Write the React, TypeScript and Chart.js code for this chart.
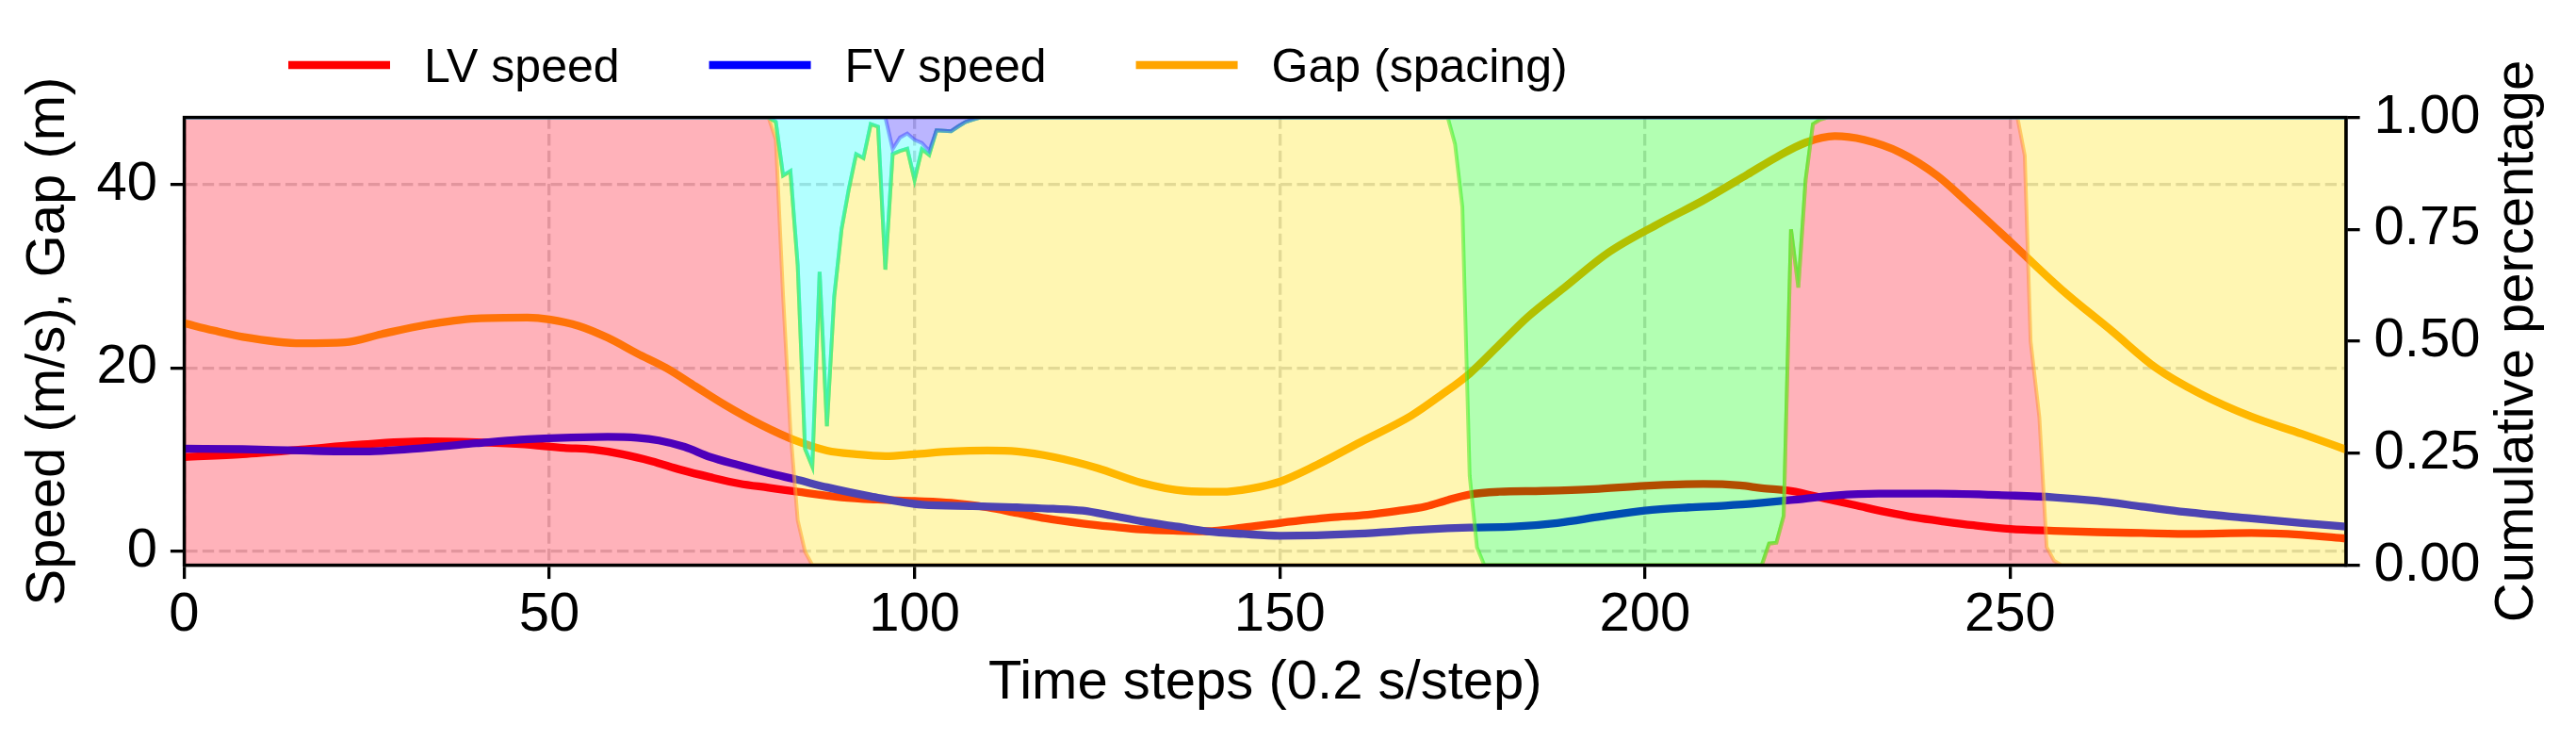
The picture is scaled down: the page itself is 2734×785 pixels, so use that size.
import React, { useEffect, useRef } from "react";
import { Chart, registerables } from "chart.js";

Chart.register(...registerables);

const FONT = '"Liberation Sans", Arial, Helvetica, sans-serif';

// ---- Axis ticks / titles ----
const xTicks = [0, 50, 100, 150, 200, 250];
const leftTicks = [0, 20, 40];
const rightTicks = [0, 0.25, 0.5, 0.75, 1];
const xTitle = "Time steps (0.2 s/step)";
const leftTitle = "Speed (m/s), Gap (m)";
const rightTitle = "Cumulative percentage";

// ---- Series ----
const seriesNames = ["LV speed", "FV speed", "Gap (spacing)"];
const seriesColors = ["#ff0000", "#0000ff", "#ffa500"];

const lvSteps = [0, 8, 16, 24, 33, 40, 46, 52, 56, 60, 64, 68, 72, 76, 80, 84, 90, 95, 100, 105, 110, 114, 118, 123, 127, 131, 136, 140, 145, 150, 157, 162, 166, 170, 173, 176, 180, 186, 193, 200, 208, 213, 216, 220, 225, 229, 233, 237, 241, 245, 250, 256, 262, 268, 275, 283, 290, 296];
const lvSpeed = [10.3, 10.6, 11.1, 11.65, 12.0, 11.9, 11.7, 11.3, 11.1, 10.6, 9.85, 8.9, 8.1, 7.4, 6.95, 6.5, 5.9, 5.65, 5.5, 5.3, 4.8, 4.2, 3.6, 3.05, 2.7, 2.4, 2.25, 2.2, 2.6, 3.1, 3.7, 4.0, 4.4, 4.9, 5.6, 6.2, 6.5, 6.6, 6.8, 7.15, 7.35, 7.2, 6.9, 6.6, 5.7, 5.0, 4.3, 3.7, 3.25, 2.85, 2.45, 2.25, 2.1, 2.0, 1.9, 2.0, 1.8, 1.4];

const fvSteps = [0, 8, 16, 24, 33, 40, 46, 52, 58, 62, 65, 68.5, 72, 76, 80, 84, 88, 94, 101, 108, 114, 119, 123, 127, 131, 136, 140, 145, 150, 155, 160, 166, 170, 176, 182, 188, 194, 200, 206, 211, 216, 220, 226, 232, 240, 250, 256, 262, 268, 274, 283, 290, 296];
const fvSpeed = [11.2, 11.15, 11.0, 10.9, 11.3, 11.8, 12.2, 12.4, 12.5, 12.4, 12.1, 11.4, 10.3, 9.4, 8.55, 7.8, 7.0, 6.0, 5.1, 4.95, 4.8, 4.65, 4.45, 3.9, 3.3, 2.7, 2.2, 1.9, 1.7, 1.75, 1.9, 2.2, 2.4, 2.6, 2.7, 3.1, 3.8, 4.45, 4.8, 5.0, 5.3, 5.6, 6.1, 6.3, 6.3, 6.1, 5.9, 5.5, 4.9, 4.3, 3.6, 3.1, 2.7];

const gapSteps = [0, 4, 8, 16, 22, 27, 33, 40, 47, 50, 54, 58, 62, 66, 70, 74, 79, 84, 88, 92, 96, 100, 105, 110, 114, 119, 125, 131, 137, 142, 146, 150, 155, 161, 168, 172, 176, 180, 184, 189, 195, 202, 208, 214, 218, 222, 226, 230, 235, 240, 244, 250, 257, 264, 270, 276, 283, 290, 296];
const gapValues = [24.9, 24.1, 23.4, 22.7, 22.8, 23.7, 24.7, 25.4, 25.5, 25.3, 24.6, 23.3, 21.6, 20.0, 18.0, 16.0, 13.8, 12.0, 11.0, 10.6, 10.4, 10.6, 10.9, 11.0, 10.9, 10.3, 9.1, 7.5, 6.6, 6.5, 6.85, 7.6, 9.4, 11.9, 14.8, 17.0, 19.4, 22.5, 25.6, 28.8, 32.6, 35.8, 38.3, 41.1, 43.0, 44.6, 45.3, 44.9, 43.5, 41.0, 38.2, 33.8, 28.6, 24.0, 20.0, 17.2, 14.7, 12.8, 11.1];

// ---- Cumulative percentage (stack boundaries, bottom to top) ----
const areaSteps = [0, 80, 81, 82, 83, 84, 85, 86, 87, 88, 89, 90, 91, 92, 93, 94, 95, 96, 97, 98, 99, 100, 101, 102, 103, 104, 105, 106, 107, 108, 109, 173, 174, 175, 176, 177, 178, 216, 217, 218, 219, 220, 221, 222, 223, 224, 225, 251, 252, 252.8, 254, 255, 256, 257, 296];
const pinkCum = [1, 1, 0.95, 0.6, 0.3, 0.1, 0.03, 0,
  0, 0, 0, 0, 0, 0, 0, 0, 0, 0, 0, 0, 0, 0, 0, 0, 0, 0, 0, 0, 0, 0, 0,
  0, 0, 0, 0, 0, 0,
  0, 0.048, 0.05, 0.11, 0.75, 0.62, 0.86, 0.985, 0.995, 1,
  1, 0.915, 0.5, 0.33, 0.04, 0.01, 0,
  0];
const yellowCum = [1, 1, 0.99, 0.87, 0.88, 0.67, 0.26, 0.22,
  0.655, 0.31, 0.6, 0.75, 0.84, 0.918, 0.909, 0.985, 0.979, 0.66, 0.918, 0.925, 0.93, 0.86, 0.929, 0.916, 0.971, 0.97, 0.969, 0.98, 0.99, 0.995, 1,
  1, 0.94, 0.8, 0.2, 0.04, 0,
  0, 0.048, 0.05, 0.11, 0.75, 0.62, 0.86, 0.985, 0.995, 1,
  1, 1, 1, 1, 1, 1, 1,
  1];
const greenCum = [1, 1, 0.99, 0.87, 0.88, 0.67, 0.26, 0.22,
  0.655, 0.31, 0.6, 0.75, 0.84, 0.918, 0.909, 0.985, 0.979, 0.66, 0.918, 0.925, 0.93, 0.86, 0.929, 0.916, 0.971, 0.97, 0.969, 0.98, 0.99, 0.995, 1,
  1, 1, 1, 1, 1, 1,
  1, 1, 1, 1, 1, 1, 1, 1, 1, 1,
  1, 1, 1, 1, 1, 1, 1,
  1];
const cyanCum = [1, 1, 1, 1, 1, 1, 1, 1,
  1, 1, 1, 1, 1, 1, 1, 1, 1, 1, 0.929, 0.955, 0.964, 0.95, 0.943, 0.925, 0.971, 0.97, 0.969, 0.98, 0.99, 0.995, 1,
  1, 1, 1, 1, 1, 1,
  1, 1, 1, 1, 1, 1, 1, 1, 1, 1,
  1, 1, 1, 1, 1, 1, 1,
  1];
const blueCum = [1, 1, 1, 1, 1, 1, 1, 1,
  1, 1, 1, 1, 1, 1, 1, 1, 1, 1, 1, 1, 1, 1, 1, 1, 1, 1, 1, 1, 1, 1, 1,
  1, 1, 1, 1, 1, 1,
  1, 1, 1, 1, 1, 1, 1, 1, 1, 1,
  1, 1, 1, 1, 1, 1, 1,
  1];

const areaFills = ["rgba(255,0,25,0.3)", "rgba(255,225,0,0.3)", "rgba(0,255,0,0.3)", "rgba(0,255,255,0.3)", "rgba(30,10,255,0.3)"];
const areaEdges = ["rgba(255,150,70,0.6)", "rgba(90,235,50,0.6)", "rgba(60,235,140,0.65)", "rgba(80,110,255,0.55)", "rgba(60,60,255,0.4)"];

const X_MAX = 296;
const Y_MIN = -1.5;
const Y_MAX = 47.35;

const GRID = "#d6d6d6";

function toPts(xs: number[], ys: number[]) {
  return xs.map((x, i) => ({ x, y: ys[i] }));
}

const overlayPlugin = {
  id: "overlay",
  afterDraw(chart: any) {
    const { ctx, chartArea: a } = chart;
    ctx.save();
    // frame (spines)
    ctx.strokeStyle = "#000";
    ctx.lineWidth = 3.3;
    ctx.setLineDash([]);
    ctx.strokeRect(a.left, a.top, a.right - a.left, a.bottom - a.top);

    // right axis title (reads bottom-to-top)
    ctx.save();
    ctx.fillStyle = "#000";
    ctx.font = `58px ${FONT}`;
    ctx.textAlign = "center";
    ctx.textBaseline = "middle";
    ctx.translate(a.right + 182, (a.top + a.bottom) / 2);
    ctx.rotate(-Math.PI / 2);
    ctx.fillText(rightTitle, 0, 0);
    ctx.restore();

    // legend
    ctx.font = `50px ${FONT}`;
    ctx.textAlign = "left";
    ctx.textBaseline = "alphabetic";
    let x = 306;
    const lineLen = 108;
    const textGap = 36;
    const itemGap = 95;
    const lineY = 69;
    const textY = 87;
    seriesNames.forEach((name, i) => {
      ctx.strokeStyle = seriesColors[i];
      ctx.lineWidth = 8.3;
      ctx.lineCap = "butt";
      ctx.beginPath();
      ctx.moveTo(x, lineY);
      ctx.lineTo(x + lineLen, lineY);
      ctx.stroke();
      const tx = x + lineLen + textGap;
      ctx.fillStyle = "#000";
      ctx.fillText(name, tx, textY);
      x = tx + ctx.measureText(name).width + itemGap;
    });
    ctx.restore();
  },
};

export default function App() {
  const canvasRef = useRef<HTMLCanvasElement | null>(null);

  useEffect(() => {
    const canvas = canvasRef.current;
    if (!canvas) return;

    const lineCommon = {
      yAxisID: "y",
      pointRadius: 0,
      borderWidth: 8.3,
      cubicInterpolationMode: "monotone",
      fill: false,
      clip: 0,
    };
    const areaData = [pinkCum, yellowCum, greenCum, cyanCum, blueCum];
    const areaLabels = ["pink", "yellow", "green", "cyan", "blue"];

    const datasets: any[] = [
      { ...lineCommon, label: seriesNames[0], data: toPts(lvSteps, lvSpeed), borderColor: seriesColors[0], order: 30 },
      { ...lineCommon, label: seriesNames[1], data: toPts(fvSteps, fvSpeed), borderColor: seriesColors[1], order: 20 },
      { ...lineCommon, label: seriesNames[2], data: toPts(gapSteps, gapValues), borderColor: seriesColors[2], order: 10 },
    ];
    areaData.forEach((arr, i) => {
      datasets.push({
        label: areaLabels[i],
        yAxisID: "y1",
        data: toPts(areaSteps, arr),
        backgroundColor: areaFills[i],
        borderColor: areaEdges[i],
        borderWidth: 4,
        pointRadius: 0,
        tension: 0,
        fill: i === 0 ? "origin" : 3 + i - 1,
        order: 5 - i,
        clip: 0,
      });
    });

    const tickFont = { size: 58, family: FONT };
    const titleFont = { size: 58, family: FONT };

    const chart = new Chart(canvas, {
      type: "line",
      data: { datasets },
      plugins: [overlayPlugin],
      options: {
        animation: false,
        responsive: false,
        devicePixelRatio: 1,
        events: [],
        layout: { padding: { top: 124.5, left: 0, right: 0, bottom: 0 } },
        plugins: {
          legend: { display: false },
          tooltip: { enabled: false },
          title: { display: false },
        },
        scales: {
          x: {
            type: "linear",
            min: 0,
            max: X_MAX,
            afterBuildTicks: (s: any) => {
              s.ticks = xTicks.map((v) => ({ value: v }));
            },
            afterFit: (s: any) => {
              s.height = 185.5;
            },
            grid: {
              display: true,
              drawOnChartArea: true,
              drawTicks: true,
              color: GRID,
              lineWidth: 3.3,
              tickLength: 14.6,
              tickWidth: 3.3,
              tickColor: "#000",
              tickBorderDash: [],
            },
            border: { display: true, color: "#000", width: 3.3, dash: [12.3, 5.3] },
            ticks: { color: "#000", font: tickFont, padding: 3.6, maxRotation: 0, autoSkip: false },
            title: { display: true, text: xTitle, color: "#000", font: titleFont, padding: { top: 0, bottom: 24.9 } },
          },
          y: {
            type: "linear",
            position: "left",
            min: Y_MIN,
            max: Y_MAX,
            afterBuildTicks: (s: any) => {
              s.ticks = leftTicks.map((v) => ({ value: v }));
            },
            afterFit: (s: any) => {
              s.width = 195.5;
            },
            grid: {
              display: true,
              drawOnChartArea: true,
              drawTicks: true,
              color: GRID,
              lineWidth: 3.3,
              tickLength: 14.6,
              tickWidth: 3.3,
              tickColor: "#000",
              tickBorderDash: [],
            },
            border: { display: true, color: "#000", width: 3.3, dash: [12.3, 5.3] },
            ticks: { color: "#000", font: tickFont, padding: 14 },
            title: { display: true, text: leftTitle, color: "#000", font: titleFont, padding: { top: 16.7, bottom: 0 } },
          },
          y1: {
            type: "linear",
            position: "right",
            min: 0,
            max: 1,
            afterBuildTicks: (s: any) => {
              s.ticks = rightTicks.map((v) => ({ value: v }));
            },
            afterFit: (s: any) => {
              s.width = 244;
            },
            grid: {
              display: true,
              drawOnChartArea: false,
              drawTicks: true,
              color: GRID,
              lineWidth: 3.3,
              tickLength: 14.6,
              tickWidth: 3.3,
              tickColor: "#000",
              tickBorderDash: [],
            },
            border: { display: true, color: "#000", width: 3.3 },
            ticks: {
              color: "#000",
              font: tickFont,
              padding: 15,
              callback: (v: any) => Number(v).toFixed(2),
            },
          },
        },
      } as any,
    });

    return () => {
      chart.destroy();
    };
  }, []);

  return (
    <div style={{ position: "absolute", left: 0, top: 0, width: 2734, height: 785, background: "#fff" }}>
      <canvas ref={canvasRef} width={2734} height={785} style={{ display: "block", width: 2734, height: 785 }} />
    </div>
  );
}
